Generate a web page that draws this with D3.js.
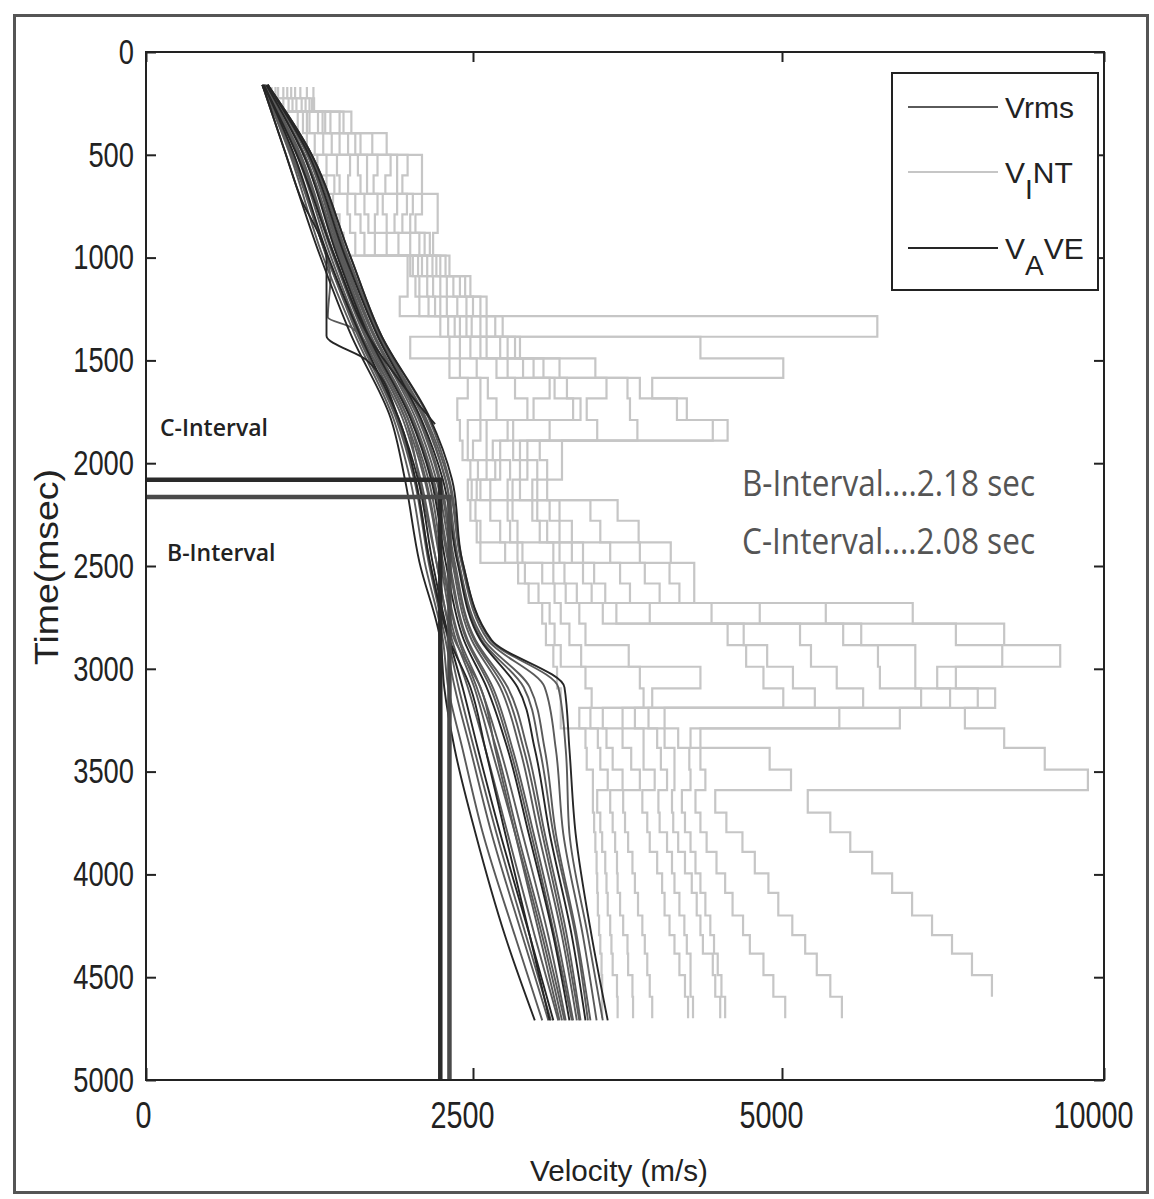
<!DOCTYPE html>
<html>
<head>
<meta charset="utf-8">
<script src="https://cdn.jsdelivr.net/npm/d3@7/dist/d3.min.js"></script>
<style>
  body { margin: 0; background: #fff; }
  svg { display: block; }
</style>
</head>
<body>
<div id="chart"></div>
<script>
// axis ticks
const velocityTicks = [0, 2500, 5000, 10000];
const timeTicks = [0, 500, 1000, 1500, 2000, 2500, 3000, 3500, 4000, 4500, 5000];

// interval picks: where the lines are drawn (msec, m/s) and the times quoted in the note (sec)
const intervalNames = ["C-Interval", "B-Interval"];
const intervalTimes = [2080, 2165];
const intervalVel = [2250, 2320];
const intervalSec = [2.08, 2.18];

// layer boundaries shared by the interval velocity (VINT) staircases, msec
const vintTimes = [170, 225, 290, 395, 500, 600, 690, 790, 880, 990, 1090, 1190, 1285, 1385, 1490, 1585,
    1685, 1790, 1890, 1985, 2080, 2180, 2280, 2385, 2485, 2585, 2680, 2780, 2885, 2990, 3095, 3190, 3290,
    3385, 3490, 3590, 3700, 3795, 3890, 3995, 4090, 4200, 4295, 4385, 4490, 4595, 4700];

// VINT velocity in each layer (m/s), one array per well
const vint1 = [930, 960, 1160, 1160, 1310, 1380, 1430, 1480, 1510, 2000, 2000, 1940, 6480, 2020, 2320, 2460, 2380, 2400, 2420, 2480, 2460, 2480, 2530, 2560, 2865, 2950, 3060, 3090, 3150, 3180, 3210, 3210, 3410, 3420, 3470, 3470, 3480, 3490, 3500, 3505, 3510, 3520, 3530, 3540, 3545, 3545];
const vint2 = [960, 990, 1200, 1230, 1380, 1440, 1540, 1560, 1600, 2020, 2060, 2090, 2250, 2320, 2400, 2560, 2560, 2460, 2460, 2540, 2490, 2520, 2560, 2760, 2920, 3030, 3120, 3160, 3210, 3410, 3460, 3360, 3510, 3530, 3590, 3505, 3530, 3545, 3570, 3580, 3590, 3610, 3620, 3630, 3665, 3670];
const vint3 = [990, 1050, 1230, 1290, 1460, 1480, 1600, 1640, 1670, 2040, 2090, 2160, 2310, 2400, 2530, 2620, 2690, 2560, 2500, 2610, 2530, 2640, 2720, 2860, 3060, 3160, 3210, 3280, 3375, 3850, 3880, 3450, 3580, 3630, 3710, 3610, 3630, 3650, 3665, 3670, 3690, 3715, 3750, 3755, 3790, 3795];
const vint4 = [1010, 1090, 1250, 1355, 1560, 1545, 1670, 1700, 1750, 2080, 2150, 2210, 2360, 2480, 2690, 2840, 2940, 2610, 2610, 2680, 2560, 2780, 2800, 2900, 3150, 3250, 3360, 3410, 3760, 4340, 3950, 3550, 3710, 3780, 3850, 3715, 3730, 3755, 3790, 3810, 3835, 3870, 3890, 3910, 3930, 3950];
const vint5 = [1050, 1120, 1315, 1420, 1620, 1640, 1770, 1750, 1840, 2110, 2195, 2250, 2400, 2560, 2780, 3120, 2990, 2780, 2660, 2720, 2640, 2820, 2860, 3150, 3240, 3340, 3550, 4560, 4710, 4850, 5020, 3710, 3880, 3880, 3970, 3870, 3910, 3930, 3990, 4030, 4050, 4090, 4130, 4170, 4215, 4240];
const vint6 = [1080, 1150, 1350, 1480, 1690, 1690, 1810, 1840, 1930, 2150, 2250, 2300, 2450, 2610, 2905, 3160, 3310, 2825, 2720, 2800, 2780, 2980, 3040, 3200, 3390, 3460, 3660, 4690, 4880, 5170, 5510, 3810, 3990, 4020, 4070, 4000, 4010, 4070, 4110, 4130, 4170, 4210, 4230, 4260, 4260, 4280];
const vint7 = [1110, 1190, 1370, 1545, 1770, 1740, 1920, 1900, 2020, 2190, 2300, 2380, 2490, 2720, 2990, 3260, 3370, 3120, 2825, 2880, 2820, 3020, 3100, 3300, 3480, 3570, 3930, 5280, 5450, 5850, 6260, 3920, 4050, 4130, 4130, 4110, 4120, 4160, 4215, 4270, 4310, 4340, 4360, 4440, 4460, 4500];
const vint8 = [1140, 1220, 1410, 1600, 1870, 1830, 1995, 1960, 2090, 2220, 2350, 2450, 2560, 2780, 3070, 3580, 3420, 3505, 2880, 2940, 2880, 3120, 3200, 3390, 3690, 3770, 4430, 5950, 6490, 6520, 7160, 4050, 4160, 4250, 4260, 4190, 4215, 4260, 4300, 4340, 4380, 4420, 4450, 4480, 4510, 4540];
const vint9 = [1180, 1250, 1480, 1640, 1920, 1920, 2040, 2020, 2130, 2250, 2400, 2500, 2610, 2840, 3200, 3750, 3770, 3830, 2940, 3020, 2980, 3200, 3300, 3610, 3890, 4010, 4820, 6230, 7070, 7070, 7610, 5890, 4260, 4340, 4380, 4300, 4340, 4390, 4470, 4540, 4600, 4685, 4740, 4850, 4930, 5050];
const vint10 = [1230, 1270, 1510, 1730, 2000, 1960, 2110, 2060, 2170, 2290, 2440, 2560, 2680, 2880, 3490, 3850, 4150, 4440, 3040, 3100, 3020, 3450, 3530, 3850, 4090, 4170, 5680, 7700, 8420, 7410, 8040, 6830, 4340, 4900, 5140, 4460, 4550, 4680, 4780, 4890, 4970, 5160, 5360, 5540, 5750, 5930];
const vint11 = [1280, 1285, 1570, 1840, 2110, 2110, 2230, 2230, 2195, 2320, 2480, 2610, 2740, 4340, 5020, 3950, 4230, 4560, 3220, 3220, 3100, 3670, 3840, 4100, 4290, 4290, 7030, 8450, 9320, 7700, 8310, 7840, 8450, 9080, 9750, 5400, 5750, 6060, 6400, 6710, 7020, 7330, 7640, 7950, 8260];

// times (msec) at which the smooth RMS / average velocity curves are sampled
const curveTimes = [160, 480, 990, 1380, 1780, 2080, 2480, 2860, 3090, 3390, 3800, 4300, 4710];

// Vrms curves (m/s)
const vrms1 = [890, 1090, 1350, 1600, 1890, 2020, 2130, 2270, 2310, 2420, 2580, 2840, 3060];
const vrms2 = [890, 1100, 1380, 1620, 1910, 2050, 2160, 2290, 2360, 2480, 2650, 2900, 3110];
const vrms3 = [890, 1110, 1380, 1630, 1920, 2060, 2170, 2310, 2390, 2510, 2690, 2930, 3130];
const vrms4 = [900, 1140, 1410, 1650, 1960, 2100, 2220, 2340, 2460, 2600, 2780, 3000, 3190];
const vrms5 = [910, 1150, 1430, 1670, 1980, 2130, 2250, 2370, 2510, 2650, 2840, 3060, 3220];
const vrms6 = [910, 1160, 1440, 1680, 2000, 2140, 2260, 2390, 2530, 2690, 2860, 3080, 3240];
const vrms7 = [910, 1170, 1440, 1690, 2000, 2160, 2270, 2400, 2560, 2720, 2900, 3110, 3250];
const vrms8 = [920, 1190, 1470, 1710, 2030, 2190, 2310, 2450, 2640, 2800, 2970, 3160, 3300];
const vrms9 = [920, 1200, 1480, 1720, 2040, 2200, 2320, 2460, 2660, 2820, 2990, 3180, 3310];
const vrms10 = [930, 1220, 1490, 1740, 2060, 2220, 2340, 2490, 2720, 2880, 3030, 3220, 3340];
const vrms11 = [930, 1220, 1500, 1740, 2080, 2240, 2350, 2510, 2750, 2910, 3060, 3240, 3360];
const vrms12 = [930, 1220, 1510, 1750, 2090, 2250, 2360, 2520, 2780, 2940, 3080, 3260, 3370];
const vrms13 = [930, 1240, 1530, 1770, 2120, 2290, 2390, 2570, 2910, 3040, 3150, 3330, 3430];
const vrms14 = [930, 1240, 1540, 1780, 2130, 2290, 2390, 2590, 2960, 3080, 3170, 3340, 3450];
const vrms15 = [930, 1250, 1540, 1790, 2140, 2310, 2410, 2620, 3080, 3170, 3230, 3390, 3500];
const vrms16 = [930, 1250, 1560, 1800, 2160, 2320, 2420, 2640, 3190, 3250, 3280, 3430, 3550];
const vrmsOddTimes = [160, 480, 900, 1100, 1290, 1340, 1500, 1780, 2080, 2480, 2860, 3090, 3390, 3800, 4300, 4710];
const vrmsOdd = [890, 1100, 1330, 1410, 1390, 1570, 1750, 1980, 2090, 2220, 2360, 2560, 2680, 2840, 3040, 3200];

// average velocity curves (m/s)
const vave1 = [890, 1060, 1330, 1570, 1870, 1980, 2090, 2250, 2280, 2360, 2520, 2760, 3000];
const vave2 = [900, 1120, 1390, 1640, 1930, 2080, 2190, 2320, 2420, 2540, 2720, 2960, 3150];
const vave3 = [920, 1190, 1460, 1700, 2020, 2180, 2290, 2430, 2610, 2780, 2950, 3150, 3280];
const vave4 = [930, 1230, 1520, 1770, 2100, 2270, 2380, 2560, 2860, 3000, 3120, 3300, 3410];
const vave5 = [930, 1250, 1560, 1800, 2170, 2340, 2420, 2650, 3240, 3280, 3330, 3460, 3590];
const vaveOddTimes = [160, 480, 720, 900, 1000, 1380, 1500, 1780, 2080, 2480, 2860, 3090, 3390, 3800, 4300, 4710];
const vaveOdd = [890, 1060, 1190, 1330, 1380, 1380, 1690, 1930, 2060, 2170, 2320, 2480, 2600, 2760, 2960, 3120];
const vaveShortTimes = [160, 480, 990, 1380, 1600, 1810];
const vaveShort = [900, 1140, 1440, 1700, 1940, 2210];

const legendNames = ["Vrms", "VINT", "VAVE"];

let margin = { top: 52, right: 50, bottom: 119, left: 146 },
    width = 1154 - margin.left - margin.right,
    height = 1199 - margin.top - margin.bottom;

const svg = d3.select("#chart")
    .append("svg")
    .attr("width", 1154)
    .attr("height", 1199);

// outer picture frame
svg.append("rect")
    .attr("x", 14.5)
    .attr("y", 15.5)
    .attr("width", 1133)
    .attr("height", 1177)
    .attr("fill", "none")
    .attr("stroke", "#555")
    .attr("stroke-width", 3);

const g = svg.append("g")
    .attr("transform", `translate(${margin.left},${margin.top})`);

const x = d3.scaleLinear()
    .domain([0, 2500, 5000, 10000])
    .range([0, 327, 636, 958]);

const y = d3.scaleLinear()
    .domain([0, 5000])
    .range([0, 1028]);

const stepLine = d3.line()
    .x(d => x(d[0]))
    .y(d => y(d[1]))
    .curve(d3.curveStepBefore);

const smoothLine = d3.line()
    .x(d => x(d[0]))
    .y(d => y(d[1]))
    .curve(d3.curveMonotoneY);

// VINT staircases
const vintTraces = [vint1, vint2, vint3, vint4, vint5, vint6, vint7, vint8, vint9, vint10, vint11];

g.append("g")
    .selectAll("path")
    .data(vintTraces)
    .join("path")
    .attr("fill", "none")
    .attr("stroke", "#c6c6c6")
    .attr("stroke-width", 2.2)
    .attr("d", vals => {
        const pts = vals.map((v, i) => [v, vintTimes[i]]);
        pts.push([vals[vals.length - 1], vintTimes[vals.length]]);
        return stepLine(pts);
    });

function curvePoints(vals, times) {
    return vals.map((v, i) => [v, times[i]]);
}

const vrmsCurves = [vrms1, vrms2, vrms3, vrms4, vrms5, vrms6, vrms7, vrms8, vrms9, vrms10, vrms11,
    vrms12, vrms13, vrms14, vrms15, vrms16].map(v => curvePoints(v, curveTimes));
vrmsCurves.push(curvePoints(vrmsOdd, vrmsOddTimes));

const vaveCurves = [vave1, vave2, vave3, vave4, vave5].map(v => curvePoints(v, curveTimes));
vaveCurves.push(curvePoints(vaveOdd, vaveOddTimes));
vaveCurves.push(curvePoints(vaveShort, vaveShortTimes));

g.append("g")
    .selectAll("path")
    .data(vrmsCurves)
    .join("path")
    .attr("fill", "none")
    .attr("stroke", "#5a5a5a")
    .attr("stroke-width", 1.9)
    .attr("d", smoothLine);

g.append("g")
    .selectAll("path")
    .data(vaveCurves)
    .join("path")
    .attr("fill", "none")
    .attr("stroke", "#262626")
    .attr("stroke-width", 1.9)
    .attr("d", smoothLine);

// interval picks: across to the curves, then straight down
const intervalColors = ["#2a2a2a", "#4a4a4a"];
g.append("g")
    .selectAll("path")
    .data(intervalTimes)
    .join("path")
    .attr("fill", "none")
    .attr("stroke", (d, i) => intervalColors[i])
    .attr("stroke-width", 4.5)
    .attr("d", (t, i) => d3.line()([
        [x(0), y(t)],
        [x(intervalVel[i]), y(t)],
        [x(intervalVel[i]), y(5000)]
    ]));

// frame and ticks
g.append("rect")
    .attr("width", width)
    .attr("height", height)
    .attr("fill", "none")
    .attr("stroke", "#222")
    .attr("stroke-width", 2);

// the tick labels are a narrow face: squeeze regular glyphs to that width
const tickFont = "'Liberation Sans', Arial, sans-serif";
const digitWidth = 15.2;

const yAxis = g.append("g")
    .call(d3.axisLeft(y).tickValues(timeTicks).tickSize(-10).tickPadding(12).tickFormat(d3.format("d")));
yAxis.select(".domain").remove();
yAxis.selectAll("line").attr("stroke", "#222").attr("stroke-width", 2);
yAxis.selectAll("text")
    .attr("textLength", d => String(d).length * digitWidth)
    .attr("lengthAdjust", "spacingAndGlyphs")
    .style("font-family", tickFont)
    .style("font-size", "35px")
    .attr("fill", "#222");

const xAxis = g.append("g")
    .attr("transform", `translate(0,${height})`)
    .call(d3.axisBottom(x).tickValues(velocityTicks).tickSize(-12).tickPadding(22).tickFormat(d3.format("d")));
xAxis.select(".domain").remove();
xAxis.selectAll("line").attr("stroke", "#222").attr("stroke-width", 2);
xAxis.selectAll("text")
    .attr("dx", d => d === 0 ? -3 : -11)
    .attr("textLength", d => String(d).length * 16)
    .attr("lengthAdjust", "spacingAndGlyphs")
    .style("font-family", tickFont)
    .style("font-size", "36px")
    .attr("fill", "#222");

const rAxis = g.append("g")
    .attr("transform", `translate(${width},0)`)
    .call(d3.axisRight(y).tickValues(timeTicks).tickSize(-10).tickFormat(""));
rAxis.select(".domain").remove();
rAxis.selectAll("line").attr("stroke", "#222").attr("stroke-width", 2);

const tAxis = g.append("g")
    .call(d3.axisTop(x).tickValues(velocityTicks).tickSize(-10).tickFormat(""));
tAxis.select(".domain").remove();
tAxis.selectAll("line").attr("stroke", "#222").attr("stroke-width", 2);

// axis titles
svg.append("text")
    .attr("transform", "translate(46,567) rotate(-90)")
    .attr("text-anchor", "middle")
    .attr("dominant-baseline", "central")
    .attr("textLength", 196)
    .attr("lengthAdjust", "spacingAndGlyphs")
    .style("font-family", "'Liberation Sans', Arial, sans-serif")
    .style("font-size", "33px")
    .attr("fill", "#222")
    .text("Time(msec)");

svg.append("text")
    .attr("x", 619)
    .attr("y", 1181)
    .attr("text-anchor", "middle")
    .attr("textLength", 178)
    .attr("lengthAdjust", "spacingAndGlyphs")
    .style("font-family", "'Liberation Sans', Arial, sans-serif")
    .style("font-size", "30px")
    .attr("fill", "#222")
    .text("Velocity (m/s)");

// interval labels beside the axis
svg.append("g")
    .selectAll("text")
    .data(intervalNames)
    .join("text")
    .attr("x", (d, i) => [160, 167][i])
    .attr("y", (d, i) => [436, 561][i])
    .style("font-family", "'Open Sans', sans-serif")
    .style("font-weight", 600)
    .style("font-size", "23px")
    .attr("fill", "#222")
    .text(d => d);

// interval times note, B first
const noteLines = [1, 0].map(i => `${intervalNames[i]}....${intervalSec[i].toFixed(2)} sec`);
svg.append("g")
    .selectAll("text")
    .data(noteLines)
    .join("text")
    .attr("x", 742)
    .attr("y", (d, i) => 496 + i * 58)
    .attr("textLength", 293)
    .attr("lengthAdjust", "spacingAndGlyphs")
    .style("font-family", "'Open Sans', sans-serif")
    .style("font-size", "36px")
    .attr("fill", "#555")
    .text(d => d);

// legend
const legend = svg.append("g");
legend.append("rect")
    .attr("x", 892)
    .attr("y", 73)
    .attr("width", 206)
    .attr("height", 217)
    .attr("fill", "#fff")
    .attr("stroke", "#222")
    .attr("stroke-width", 2);

const legendY = [107, 172, 248];
const legendColors = ["#5a5a5a", "#c6c6c6", "#262626"];
legend.selectAll("line")
    .data(legendNames)
    .join("line")
    .attr("x1", 908)
    .attr("x2", 998)
    .attr("y1", (d, i) => legendY[i])
    .attr("y2", (d, i) => legendY[i])
    .attr("stroke", (d, i) => legendColors[i])
    .attr("stroke-width", 2.2);

const legendText = legend.selectAll("text")
    .data(legendNames)
    .join("text")
    .attr("x", 1005)
    .attr("y", (d, i) => legendY[i] + 11)
    .style("font-family", "'Liberation Sans', Arial, sans-serif")
    .style("font-size", "30px")
    .attr("fill", "#222");

legendText.each(function(d) {
    const t = d3.select(this);
    if (d === "Vrms") {
        t.text(d);
        return;
    }
    // second letter sits lower, like a subscript
    t.append("tspan").text(d[0]);
    t.append("tspan").attr("dy", 16).attr("font-size", "28px").text(d[1]);
    t.append("tspan").attr("dy", -16).text(d.slice(2));
});
</script>
</body>
</html>
